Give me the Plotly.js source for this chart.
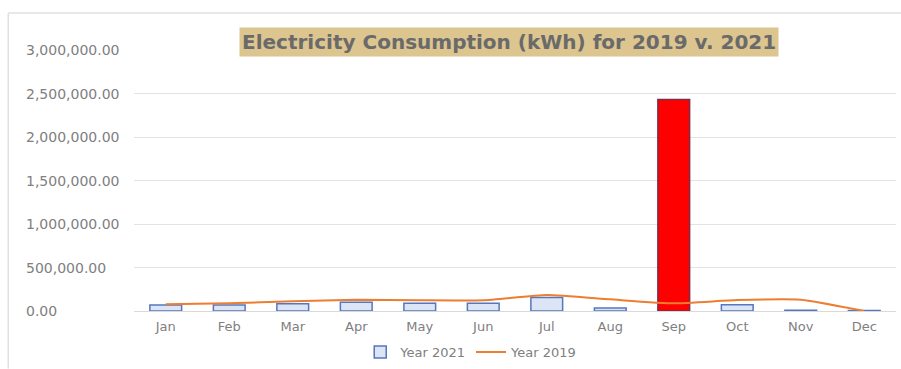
<!DOCTYPE html>
<html>
<head>
<meta charset="utf-8">
<script src="https://cdn.plot.ly/plotly-3.0.1.min.js"></script>
<style>html,body{margin:0;padding:0;background:#fff;}#chart{width:901px;height:369px;}</style>
</head>
<body>
<div id="chart"></div>
<script>
const months = ["Jan","Feb","Mar","Apr","May","Jun","Jul","Aug","Sep","Oct","Nov","Dec"];
const year2021 = [69000, 69000, 83000, 100000, 90000, 90000, 155000, 35000, 2430000, 72000, 10000, 5000];
const year2019 = [77000, 88000, 111000, 130000, 123000, 123000, 184000, 134000, 88000, 126000, 130000, 0];
const yTicks = [0, 500000, 1000000, 1500000, 2000000, 2500000, 3000000];
const yTickText = ["0.00","500,000.00","1,000,000.00","1,500,000.00","2,000,000.00","2,500,000.00","3,000,000.00"];
const highlightMonth = "Sep";

const font = "DejaVu Sans, sans-serif";
const gray = "#808080";

const barColors = months.map(m => m === highlightMonth ? "#ff0000" : "#dbe5f6");
const barLines = months.map(m => m === highlightMonth ? "#7b2d45" : "#5577c0");

const traces = [
  {
    type: "bar", name: "Year 2021", x: months, y: year2021,
    marker: {color: barColors, line: {color: barLines, width: 1.5}},
    width: 0.5
  },
  {
    type: "scatter", mode: "lines", name: "Year 2019", x: months, y: year2019,
    line: {color: "#ED7D31", width: 2, shape: "spline", smoothing: 0.5}
  }
];

const annotations = yTicks.map((v, i) => ({
  xref: "paper", yref: "y", x: -0.1445, y: v, xanchor: "left", yanchor: "middle",
  text: yTickText[i], showarrow: false, font: {family: font, size: 14, color: gray}
}));
annotations.push({
  xref: "paper", yref: "paper", x: 0.492, y: 1.031, xanchor: "center", yanchor: "middle",
  text: "<b>Electricity Consumption (kWh) for 2019 v. 2021</b>", showarrow: false,
  font: {family: "DejaVu Sans, sans-serif", size: 20, color: "#6a6a6a"},
  bgcolor: "#dcc58f", borderpad: 2
});

const layout = {
  width: 901, height: 369,
  margin: {l: 134, r: 5, t: 50, b: 58, autoexpand: false},
  paper_bgcolor: "#ffffff", plot_bgcolor: "#ffffff",
  showlegend: true,
  legend: {
    orientation: "h", xref: "container", yref: "container",
    x: 0.523, xanchor: "center", y: 0.046, yanchor: "middle",
    font: {family: font, size: 13, color: gray}, itemwidth: 30
  },
  xaxis: {
    type: "category", tickfont: {family: font, size: 13, color: gray},
    showline: true, linecolor: "#d9d9d9", linewidth: 1, ticks: "", showgrid: false,
    fixedrange: true, automargin: false, ticklabelstandoff: 3
  },
  yaxis: {
    range: [0, 3000000], tickvals: yTicks, showticklabels: false,
    showgrid: true, gridcolor: "#e3e3e3", gridwidth: 1, zeroline: false, ticks: "",
    fixedrange: true, automargin: false
  },
  annotations: annotations,
  shapes: [
    {type: "line", xref: "paper", yref: "paper", x0: -0.165, x1: -0.165, y0: -0.22, y1: 1.142, line: {color: "#e0e0e0", width: 1.5}},
    {type: "line", xref: "paper", yref: "paper", x0: -0.165, x1: 1.01, y0: 1.142, y1: 1.142, line: {color: "#e0e0e0", width: 1.5}}
  ],
  bargap: 0.5
};

Plotly.newPlot("chart", traces, layout, {displayModeBar: false, staticPlot: true});
</script>
</body>
</html>
